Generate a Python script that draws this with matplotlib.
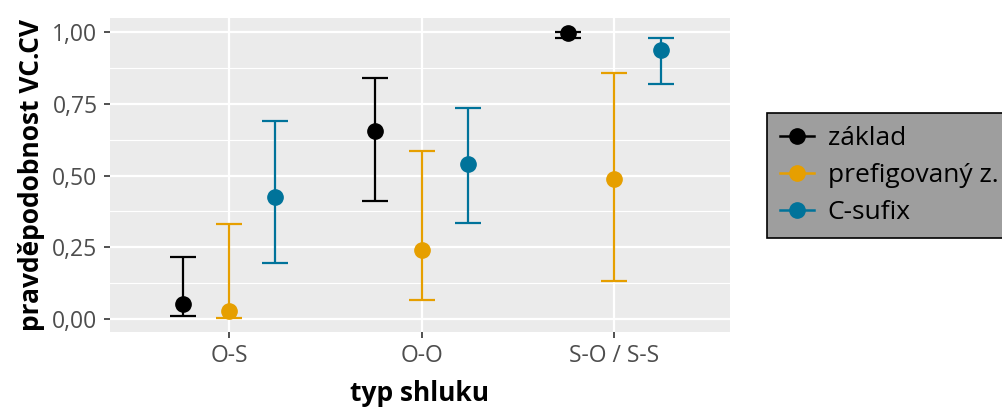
import numpy as np
import matplotlib.pyplot as plt
from matplotlib.lines import Line2D

plt.rcParams['font.family'] = ['Open Sans', 'DejaVu Sans']

categories = ["O-S", "O-O", "S-O / S-S"]
groups = ["základ", "prefigovaný z.", "C-sufix"]
colors = ["#000000", "#E69F00", "#00739A"]

# odhad a interval spolehlivosti pro každou skupinu (pořadí dle categories)
est = {
    "základ":         [0.052, 0.655, 0.997],
    "prefigovaný z.": [0.028, 0.240, 0.488],
    "C-sufix":        [0.425, 0.540, 0.937],
}
lower = {
    "základ":         [0.010, 0.411, 0.980],
    "prefigovaný z.": [0.003, 0.068, 0.132],
    "C-sufix":        [0.195, 0.334, 0.819],
}
upper = {
    "základ":         [0.216, 0.840, 1.000],
    "prefigovaný z.": [0.330, 0.587, 0.858],
    "C-sufix":        [0.690, 0.735, 0.980],
}

fig = plt.figure(figsize=(10.03, 4.16), dpi=100)
ax = fig.add_axes([0.1097, 0.202, 0.618, 0.755])
ax.set_facecolor("#EBEBEB")

x = np.arange(1, len(categories) + 1)
offsets = [-0.24, 0.0, 0.24]
for g, c, off in zip(groups, colors, offsets):
    e = np.array(est[g])
    lo = np.array(lower[g])
    hi = np.array(upper[g])
    ax.errorbar(x + off, e, yerr=[e - lo, hi - e], fmt="o", color=c,
                ecolor=c, elinewidth=1.6, capsize=9.5, capthick=1.6,
                markersize=11, zorder=3)

ax.set_xlim(0.383, 3.60)
ax.set_ylim(-0.045, 1.049)
ax.set_xticks(x)
ax.set_xticklabels(categories)
ax.set_yticks([0, 0.25, 0.5, 0.75, 1.0])
ax.set_yticklabels(["0,00", "0,25", "0,50", "0,75", "1,00"])
ax.set_yticks([0.125, 0.375, 0.625, 0.875], minor=True)
ax.set_xticks([], minor=True)

ax.grid(True, which="major", color="white", linewidth=1.6, zorder=0)
ax.grid(True, which="minor", axis="y", color="white", linewidth=0.8, zorder=0)
ax.set_axisbelow(True)
for s in ax.spines.values():
    s.set_visible(False)

ax.tick_params(which="major", length=4, width=1.2, color="#333333",
               labelcolor="#4D4D4D", labelsize=16.5, pad=5)
ax.tick_params(which="minor", length=0)

ax.set_xlabel("typ shluku", fontsize=19, fontweight="bold", labelpad=8)
ax.set_ylabel("pravděpodobnost VC.CV", fontsize=19, fontweight="bold", labelpad=5)

handles = [Line2D([0], [0], color=c, marker="o", markersize=11, linewidth=1.8)
           for c in colors]
leg = fig.legend(handles, groups, loc="upper left",
                 bbox_to_anchor=(767 / 1003, 1 - 113 / 416),
                 fontsize=19, frameon=True, fancybox=False,
                 handlelength=1.3, handletextpad=0.5, labelspacing=0.45,
                 borderpad=0.5, borderaxespad=0)
frame = leg.get_frame()
frame.set_facecolor("#9E9E9E")
frame.set_edgecolor("#000000")
frame.set_linewidth(1.2)
frame.set_alpha(1)

fig.savefig("out.png", dpi=100)
